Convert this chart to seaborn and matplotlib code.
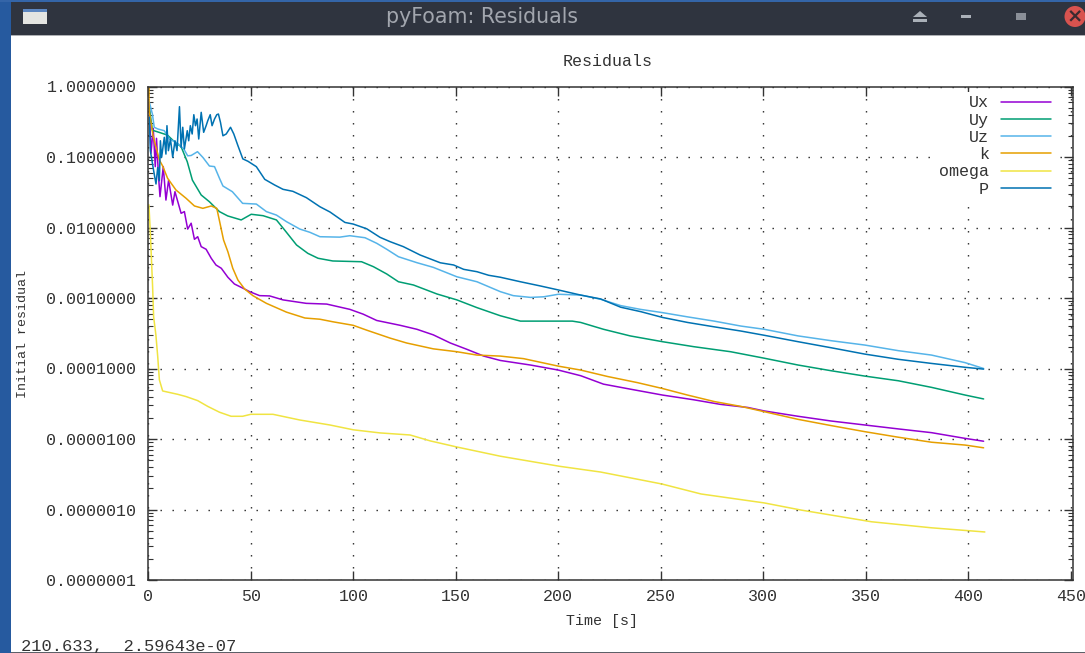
import matplotlib
matplotlib.use("Agg")
import matplotlib.pyplot as plt
import seaborn as sns
from matplotlib.patches import Rectangle, Circle, Polygon
from matplotlib.ticker import LogLocator, NullFormatter

# values
t_ux = [0.3, 0.5, 1.3, 2.4, 3.4, 4, 5, 5.7, 7.3, 8.6, 9.9, 11.9, 13, 16, 17.6, 19.2, 20.9, 22.5, 24.1, 25.8, 28.2,
        30.7, 33, 35.6, 38.8, 42, 47, 49.4, 54.3, 59.2, 65.7, 77, 87, 98.3, 104.8, 111.4, 122.8, 131, 139, 147.3,
        155.4, 163.6, 171.7, 186.4, 200, 210.9, 222, 235, 250.8, 266, 279, 292.4, 300.4, 316.9, 333, 349.5, 365.8,
        382, 398.4, 407.4]
ux = [0.6, 0.517, 0.113, 0.255, 0.073, 0.184, 0.0526, 0.0274, 0.073, 0.0245, 0.047, 0.0208, 0.0322, 0.0159, 0.0168,
      0.0095, 0.0115, 0.0068, 0.0074, 0.00535, 0.00491, 0.00366, 0.00294, 0.00264, 0.00197, 0.00158, 0.00134, 0.00123,
      0.00108, 0.00107, 0.00094, 0.00084, 0.00082, 0.00069, 0.00059, 0.00048, 0.00041, 0.00036, 0.0003, 0.00023,
      0.000187, 0.00015, 0.00013, 0.000112, 0.000095, 0.000079, 0.00006, 0.000051, 0.000042, 0.000036, 0.000031,
      0.000028, 0.000025, 0.000021, 0.000018, 0.0000158, 0.0000139, 0.0000123, 0.0000102, 0.0000093]

t_uy = [0.5, 2, 9.3, 12.7, 16, 19, 21.5, 25.8, 29.8, 34.7, 38.7, 45.3, 50.2, 56, 62.5, 66.5, 72.3, 77.8, 82.8, 90, 104,
        109.8, 116.3, 122, 129.3, 140.8, 150.5, 160.3, 171.7, 181.5, 206.8, 210.9, 222, 235, 250.8, 266, 284, 300.4,
        316.9, 333, 349.5, 365.8, 382, 398.4, 407.4]
uy = [0.5, 0.24, 0.205, 0.165, 0.14, 0.0857, 0.047, 0.0289, 0.0232, 0.0168, 0.0146, 0.0128, 0.0154, 0.0147, 0.0128,
      0.0092, 0.00565, 0.0043, 0.00366, 0.00335, 0.00327, 0.00278, 0.00219, 0.0017, 0.00153, 0.00114, 0.00094,
      0.00073, 0.00056, 0.00047, 0.00047, 0.00045, 0.00036, 0.00029, 0.00024, 0.000204, 0.000173, 0.00014, 0.000112,
      0.000093, 0.000078, 0.000067, 0.000054, 0.000042, 0.000037]

t_uz = [0.5, 2, 2.9, 4.6, 7.8, 10.3, 14.4, 17.3, 19.2, 20.9, 24, 26.7, 29.8, 32.3, 34.7, 36.4, 41, 46, 52.7, 57.6, 62.5,
        67.4, 73.9, 78.8, 83.7, 93.4, 98.3, 105.7, 111.4, 116.3, 122, 131, 139, 150.5, 160.3, 171.7, 178, 186.4, 192.8,
        200, 210.9, 220.6, 230.4, 240, 250.8, 263, 276, 289, 300.4, 316.9, 333, 349.5, 365.8, 382, 398.4, 407.4]
uz = [0.6, 0.407, 0.264, 0.25, 0.236, 0.18, 0.156, 0.13, 0.104, 0.105, 0.119, 0.098, 0.0745, 0.073, 0.05, 0.0388,
      0.0322, 0.022, 0.0215, 0.0168, 0.015, 0.0121, 0.0095, 0.00855, 0.0074, 0.0073, 0.00765, 0.00716, 0.00597, 0.00491,
      0.00385, 0.00317, 0.00272, 0.002, 0.0017, 0.00123, 0.00108, 0.00102, 0.00104, 0.00113, 0.0011, 0.00096, 0.00078,
      0.00069, 0.00062, 0.00054, 0.00047, 0.0004, 0.00036, 0.00029, 0.000248, 0.000215, 0.000179, 0.000155, 0.000121,
      0.0001]

t_k = [0.3, 0.4, 2.4, 3.7, 5.4, 7, 9.4, 13.5, 18.4, 22.5, 26.6, 30.7, 33.4, 34.7, 36.7, 38.8, 41.2, 43.7, 47, 51, 57.6,
       67.4, 76.4, 83.7, 90, 99.9, 106.5, 117.9, 126, 139, 150.5, 160.3, 171.7, 183, 200, 210.9, 224, 238.6, 250.8,
       263, 276, 289, 300.4, 316.9, 333, 349.5, 365.8, 382, 398.4, 407.4]
k = [1.0, 0.45, 0.194, 0.14, 0.0906, 0.0745, 0.05, 0.034, 0.026, 0.0202, 0.0187, 0.0202, 0.0187, 0.0125, 0.00665,
     0.00454, 0.00264, 0.0018, 0.00134, 0.00108, 0.00084, 0.00063, 0.00052, 0.0005, 0.00046, 0.00041, 0.00035, 0.00027,
     0.00023, 0.00019, 0.000173, 0.000155, 0.00015, 0.000138, 0.000108, 0.000095, 0.000077, 0.000063, 0.000052,
     0.000042, 0.000034, 0.000029, 0.0000244, 0.000019, 0.0000155, 0.0000127, 0.0000106, 0.000009, 0.0000082, 0.0000075]

t_omega = [0.3, 1, 2.1, 2.6, 3.7, 4.6, 5.4, 7, 14.4, 18.4, 24.1, 29, 34.7, 40.4, 46, 50, 60.8, 73.9, 88.6, 100, 113,
           127.7, 137.5, 150.5, 171.7, 200.6, 220.6, 250.5, 269.6, 300.4, 318.5, 352.7, 382, 408]
omega = [0.021, 0.0083, 0.00145, 0.00054, 0.0003, 0.000147, 0.000069, 0.000048, 0.000043, 0.00004, 0.000035, 0.000029,
         0.000024, 0.000021, 0.000021, 0.0000224, 0.0000224, 0.0000186, 0.0000158, 0.0000135, 0.0000122, 0.0000114,
         0.0000094, 0.0000077, 0.0000057, 0.0000041, 0.0000034, 0.0000023, 0.00000166, 0.00000124, 0.00000098,
         0.00000067, 0.00000055, 0.00000048]

t_p = [0.5, 1, 2.6, 3.75, 4.6, 5.4, 5.9, 6.5, 7.8, 8.6, 9.1, 9.8, 10.8, 11.9, 13, 14, 15.2, 16, 16.8, 17.6, 19, 19.7,
       20.5, 21.4, 22.2, 23, 23.8, 24.6, 25.8, 27, 28.2, 29, 30.2, 31.1, 32.3, 33.4, 34.2, 35.2, 36.4, 38, 40.1, 41.7,
       43.7, 46.1, 48.6, 52.7, 56.8, 61.6, 65.7, 70.5, 77.1, 83.7, 88.6, 95.9, 99.9, 106.5, 113, 117.9, 124.4, 132.6,
       142.4, 148.9, 153.8, 160.3, 166, 171.7, 181.5, 191.3, 200, 210.9, 220.6, 230.4, 240.2, 250.8, 263, 276, 289,
       300.4, 316.9, 333, 349.5, 365.8, 382, 398.4, 407.4]
p = [0.366, 0.123, 0.064, 0.0414, 0.071, 0.046, 0.17, 0.099, 0.19, 0.11, 0.278, 0.123, 0.18, 0.099, 0.17, 0.123, 0.517,
     0.137, 0.264, 0.13, 0.236, 0.17, 0.278, 0.212, 0.398, 0.278, 0.346, 0.18, 0.43, 0.224, 0.278, 0.327, 0.398, 0.278,
     0.346, 0.398, 0.407, 0.31, 0.2, 0.212, 0.264, 0.212, 0.145, 0.094, 0.087, 0.0729, 0.0482, 0.0401, 0.0348, 0.0326,
     0.0265, 0.0197, 0.0166, 0.0118, 0.0112, 0.0096, 0.00726, 0.0063, 0.00535, 0.00407, 0.00316, 0.00294, 0.00255,
     0.00236, 0.0021, 0.00197, 0.0017, 0.00148, 0.0013, 0.0011, 0.00097, 0.00074, 0.00064, 0.00053, 0.00045, 0.00039,
     0.00034, 0.000296, 0.00024, 0.000197, 0.00016, 0.000135, 0.000118, 0.000104, 0.000098]

series = [("Ux", t_ux, ux, "#9400d3"), ("Uy", t_uy, uy, "#009e73"), ("Uz", t_uz, uz, "#56b4e9"),
          ("k", t_k, k, "#e69f00"), ("omega", t_omega, omega, "#f0e442"), ("P", t_p, p, "#0072b2")]

x_ticks = [0, 50, 100, 150, 200, 250, 300, 350, 400, 450]
y_ticks = [1.0, 0.1, 0.01, 0.001, 0.0001, 0.00001, 0.000001, 0.0000001]
y_labels = ["1.0000000", "0.1000000", "0.0100000", "0.0010000", "0.0001000", "0.0000100", "0.0000010", "0.0000001"]

W, H = 1085, 653
sns.set_theme(style="ticks")
plt.rcParams["font.family"] = ["Liberation Mono", "DejaVu Sans Mono"]
ink = "#333333"

fig = plt.figure(figsize=(W / 100, H / 100), dpi=100, facecolor="white")
ax = fig.add_axes([148.3 / W, 1 - 580 / H, 924.5 / W, 493.5 / H])


def box(x0, y0, x1, y1, color):
    fig.add_artist(Rectangle((x0 / W, 1 - y1 / H), (x1 - x0) / W, (y1 - y0) / H, color=color, lw=0,
                             transform=fig.transFigure))


for name, t, v, c in series:
    sns.lineplot(x=t, y=v, color=c, label=name, estimator=None, sort=False, linewidth=1.1, ax=ax)

ax.set_yscale("log")
ax.set_xlim(0, 450.9)
ax.set_ylim(1e-7, 1)
ax.set_xticks(x_ticks)
ax.set_yticks(y_ticks)
ax.set_yticklabels(y_labels)
ax.yaxis.set_minor_locator(LogLocator(base=10, subs=range(2, 10), numticks=20))
ax.yaxis.set_minor_formatter(NullFormatter())
ax.tick_params(which="major", direction="in", length=6.5, width=1, top=True, right=True, color=ink,
               labelsize=12, labelcolor=ink)
ax.tick_params(which="minor", direction="in", length=3.6, width=0.8, left=True, right=True, color=ink)
ax.tick_params(axis="y", which="major", pad=8.5)
ax.tick_params(axis="x", which="major", pad=6.5)
ax.grid(True, which="major", color="#222222", linewidth=1, linestyle=(0, (1, 7.64)))
ax.set_axisbelow(True)
for s in ax.spines.values():
    s.set_visible(True)
    s.set_color(ink)
    s.set_linewidth(1.1)

leg = ax.legend(loc="upper right", bbox_to_anchor=(1054 / W, 1 - 92 / H), bbox_transform=fig.transFigure,
                markerfirst=False, frameon=True, framealpha=1, facecolor="white", edgecolor="none", fancybox=False,
                fontsize=12, handlelength=3, handletextpad=0.72, labelspacing=0.136, borderpad=0.2, borderaxespad=0)
for txt in leg.get_texts():
    txt.set_color(ink)
leg.set_zorder(5)

fig.text(608 / W, 1 - 61 / H, "Residuals", ha="center", va="center", fontsize=12, color=ink)
fig.text(602 / W, 1 - 621 / H, "Time [s]", ha="center", va="center", fontsize=10.8, color=ink)
fig.text(23 / W, 1 - 334 / H, "Initial residual", ha="center", va="center", rotation=90, fontsize=9.6, color=ink)
fig.text(21 / W, 1 - 651 / H, "210.633,  2.59643e-07", ha="left", va="baseline", fontsize=12.3, color=ink)

# window chrome around the plot
box(0, 0, 11, H, "#265a9f")
box(0, 0, W, 2, "#3465a8")
box(11, 2, W, 35, "#2f343f")
box(11, 35, W, 36, "#aeb0b4")
box(11, H - 1.5, W, H, "#5c6068")
box(23, 9, 47, 24, "#e4e5e2")
box(23, 9, 47, 12, "#5c86c0")
box(913, 19, 927, 22, "#aab0b8")
fig.add_artist(Polygon([(913 / W, 1 - 17 / H), (927 / W, 1 - 17 / H), (920 / W, 1 - 11 / H)], closed=True,
                       color="#aab0b8", lw=0, transform=fig.transFigure))
box(961, 15, 971, 17.5, "#aab0b8")
box(1016, 13, 1026, 20, "#8a8f98")
fig.add_artist(Circle((1075, H - 16.5), 10.5, color="#d9534f", lw=0, transform=None))
fig.text(1075 / W, 1 - 16.5 / H, "×", ha="center", va="center", fontsize=14, fontweight="bold", color="#3a2a30",
         family="DejaVu Sans")
fig.text(482 / W, 1 - 17 / H, "pyFoam: Residuals", ha="center", va="center", fontsize=14.8, color="#a2a6ae",
         family="DejaVu Sans")

fig.savefig("out.png", dpi=100)
